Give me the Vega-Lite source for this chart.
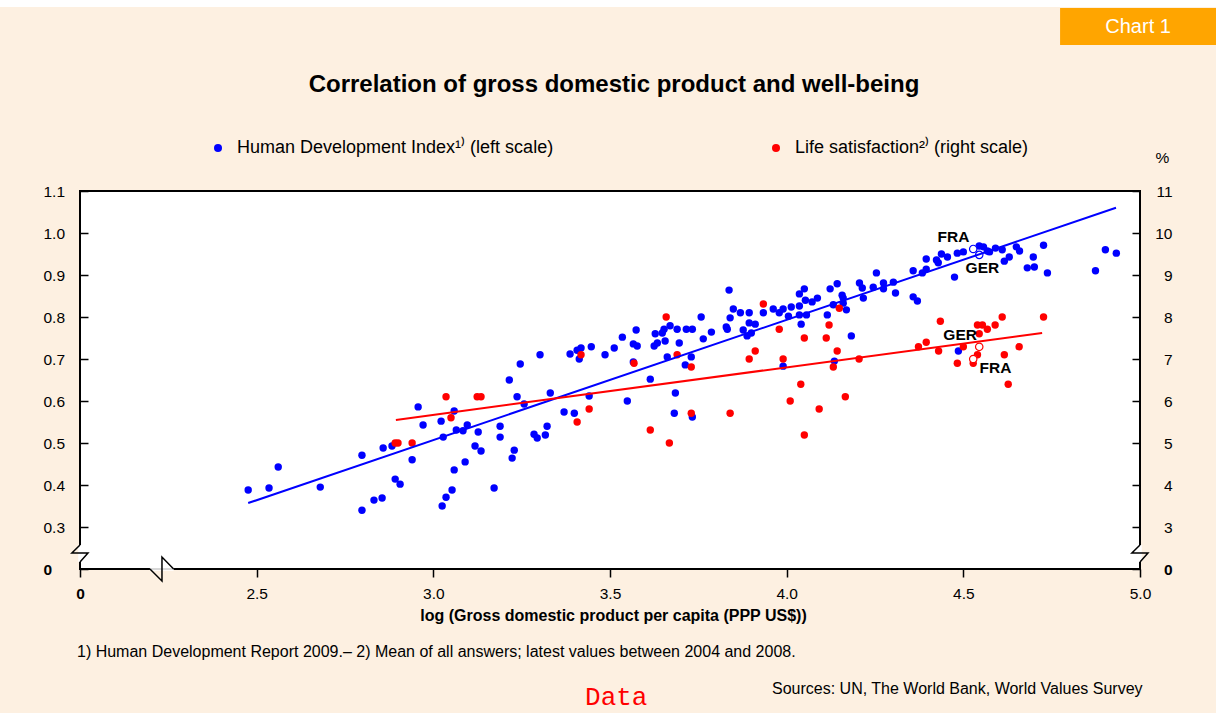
{
  "$schema": "https://vega.github.io/schema/vega-lite/v6.json",
  "width": 1060,
  "height": 378,
  "autosize": {"type": "none"},
  "padding": {"left": 80, "top": 191, "right": 76, "bottom": 144},
  "background": "#FDF0E1",
  "config": {
    "font": "Liberation Sans",
    "view": {"stroke": "#000000", "strokeWidth": 2, "fill": "#FFFFFF"},
    "axis": {"grid": false, "domain": false, "tickColor": "#000000", "tickWidth": 1.5, "labelColor": "#000000", "labelFont": "Liberation Sans", "labelFontSize": 15.5, "titleColor": "#000000", "titleFont": "Liberation Sans", "labelFlush": false, "labelOverlap": false}
  },
  "datasets": {
    "hdi": [
      {"x":2.476,"v":0.388},{"x":2.535,"v":0.393},{"x":2.561,"v":0.443},{"x":2.680,"v":0.395},{"x":2.798,"v":0.340},{"x":2.798,"v":0.471},{"x":2.832,"v":0.364},{"x":2.855,"v":0.369},{"x":2.858,"v":0.488},{"x":2.883,"v":0.493},{"x":2.892,"v":0.414},{"x":2.906,"v":0.402},{"x":2.940,"v":0.460},{"x":2.957,"v":0.586},{"x":2.971,"v":0.543},{"x":3.022,"v":0.552},{"x":3.025,"v":0.350},{"x":3.028,"v":0.514},{"x":3.036,"v":0.371},{"x":3.053,"v":0.388},{"x":3.059,"v":0.436},{"x":3.059,"v":0.576},{"x":3.065,"v":0.531},{"x":3.084,"v":0.529},{"x":3.090,"v":0.455},{"x":3.096,"v":0.543},{"x":3.118,"v":0.493},{"x":3.127,"v":0.526},{"x":3.135,"v":0.481},{"x":3.172,"v":0.393},{"x":3.189,"v":0.540},{"x":3.189,"v":0.514},{"x":3.215,"v":0.650},{"x":3.223,"v":0.464},{"x":3.229,"v":0.483},{"x":3.237,"v":0.610},{"x":3.246,"v":0.688},{"x":3.257,"v":0.593},{"x":3.285,"v":0.521},{"x":3.294,"v":0.512},{"x":3.302,"v":0.710},{"x":3.317,"v":0.519},{"x":3.322,"v":0.540},{"x":3.331,"v":0.619},{"x":3.370,"v":0.574},{"x":3.387,"v":0.712},{"x":3.399,"v":0.571},{"x":3.407,"v":0.721},{"x":3.413,"v":0.700},{"x":3.418,"v":0.726},{"x":3.441,"v":0.612},{"x":3.447,"v":0.729},{"x":3.486,"v":0.710},{"x":3.512,"v":0.726},{"x":3.535,"v":0.752},{"x":3.549,"v":0.600},{"x":3.566,"v":0.736},{"x":3.566,"v":0.693},{"x":3.574,"v":0.769},{"x":3.577,"v":0.731},{"x":3.614,"v":0.652},{"x":3.625,"v":0.731},{"x":3.628,"v":0.760},{"x":3.634,"v":0.738},{"x":3.648,"v":0.762},{"x":3.653,"v":0.771},{"x":3.656,"v":0.743},{"x":3.662,"v":0.705},{"x":3.670,"v":0.779},{"x":3.682,"v":0.571},{"x":3.685,"v":0.619},{"x":3.690,"v":0.771},{"x":3.696,"v":0.738},{"x":3.713,"v":0.686},{"x":3.716,"v":0.771},{"x":3.730,"v":0.705},{"x":3.733,"v":0.771},{"x":3.733,"v":0.562},{"x":3.758,"v":0.800},{"x":3.764,"v":0.748},{"x":3.787,"v":0.764},{"x":3.829,"v":0.776},{"x":3.832,"v":0.771},{"x":3.837,"v":0.864},{"x":3.840,"v":0.798},{"x":3.849,"v":0.819},{"x":3.869,"v":0.810},{"x":3.877,"v":0.769},{"x":3.888,"v":0.755},{"x":3.894,"v":0.810},{"x":3.894,"v":0.786},{"x":3.900,"v":0.762},{"x":3.911,"v":0.783},{"x":3.934,"v":0.810},{"x":3.962,"v":0.819},{"x":3.979,"v":0.810},{"x":3.990,"v":0.819},{"x":3.990,"v":0.683},{"x":4.005,"v":0.802},{"x":4.013,"v":0.824},{"x":4.036,"v":0.826},{"x":4.036,"v":0.805},{"x":4.036,"v":0.855},{"x":4.041,"v":0.783},{"x":4.050,"v":0.867},{"x":4.053,"v":0.840},{"x":4.056,"v":0.805},{"x":4.072,"v":0.836},{"x":4.087,"v":0.845},{"x":4.115,"v":0.805},{"x":4.123,"v":0.867},{"x":4.132,"v":0.829},{"x":4.135,"v":0.695},{"x":4.143,"v":0.879},{"x":4.157,"v":0.852},{"x":4.160,"v":0.845},{"x":4.160,"v":0.833},{"x":4.169,"v":0.817},{"x":4.183,"v":0.755},{"x":4.206,"v":0.881},{"x":4.214,"v":0.869},{"x":4.217,"v":0.845},{"x":4.245,"v":0.871},{"x":4.254,"v":0.905},{"x":4.274,"v":0.881},{"x":4.274,"v":0.867},{"x":4.302,"v":0.883},{"x":4.308,"v":0.857},{"x":4.358,"v":0.910},{"x":4.358,"v":0.848},{"x":4.370,"v":0.838},{"x":4.384,"v":0.905},{"x":4.395,"v":0.914},{"x":4.395,"v":0.938},{"x":4.424,"v":0.936},{"x":4.429,"v":0.929},{"x":4.438,"v":0.950},{"x":4.455,"v":0.943},{"x":4.475,"v":0.895},{"x":4.483,"v":0.952},{"x":4.486,"v":0.719},{"x":4.500,"v":0.955},{"x":4.545,"v":0.969},{"x":4.557,"v":0.967},{"x":4.568,"v":0.957},{"x":4.574,"v":0.955},{"x":4.591,"v":0.964},{"x":4.610,"v":0.960},{"x":4.616,"v":0.933},{"x":4.630,"v":0.943},{"x":4.650,"v":0.967},{"x":4.659,"v":0.957},{"x":4.681,"v":0.917},{"x":4.698,"v":0.943},{"x":4.701,"v":0.919},{"x":4.727,"v":0.971},{"x":4.738,"v":0.905},{"x":4.874,"v":0.910},{"x":4.902,"v":0.960},{"x":4.933,"v":0.952},
      {"x":4.528,"v":0.962,"country":"FRA"},{"x":4.545,"v":0.948,"country":"GER"}
    ],
    "ls": [
      {"x":2.892,"v":5.0},{"x":2.900,"v":5.0},{"x":2.940,"v":5.0},{"x":3.036,"v":6.1},{"x":3.050,"v":5.6},{"x":3.124,"v":6.1},{"x":3.135,"v":6.1},{"x":3.407,"v":5.5},{"x":3.418,"v":7.1},{"x":3.441,"v":5.81},{"x":3.568,"v":6.9},{"x":3.614,"v":5.31},{"x":3.659,"v":8.0},{"x":3.668,"v":5.0},{"x":3.690,"v":7.1},{"x":3.730,"v":6.81},{"x":3.730,"v":5.71},{"x":3.840,"v":5.71},{"x":3.894,"v":7.0},{"x":3.911,"v":7.19},{"x":3.934,"v":8.31},{"x":3.979,"v":7.71},{"x":3.990,"v":7.0},{"x":4.010,"v":6.0},{"x":4.040,"v":6.4},{"x":4.050,"v":7.5},{"x":4.050,"v":5.19},{"x":4.092,"v":5.81},{"x":4.112,"v":7.5},{"x":4.120,"v":7.81},{"x":4.132,"v":6.81},{"x":4.143,"v":7.19},{"x":4.149,"v":8.21},{"x":4.166,"v":6.1},{"x":4.205,"v":7.0},{"x":4.373,"v":7.29},{"x":4.395,"v":7.4},{"x":4.430,"v":7.19},{"x":4.435,"v":7.9},{"x":4.483,"v":6.9},{"x":4.500,"v":7.29},{"x":4.528,"v":6.9},{"x":4.540,"v":7.81},{"x":4.540,"v":7.1},{"x":4.545,"v":7.6},{"x":4.554,"v":7.81},{"x":4.568,"v":7.71},{"x":4.590,"v":7.81},{"x":4.610,"v":8.0},{"x":4.616,"v":7.1},{"x":4.627,"v":6.4},{"x":4.658,"v":7.29},{"x":4.727,"v":8.0},
      {"x":4.528,"v":7.0,"country":"FRA"},{"x":4.545,"v":7.29,"country":"GER"}
    ],
    "fit": [
      {"s":"hdi","x":2.476,"v":0.357},{"s":"hdi","x":4.932,"v":1.06},
      {"s":"ls","x":2.894,"v":5.55},{"s":"ls","x":4.723,"v":7.62}
    ],
    "labelsA": [
      {"label":"FRA","x":4.472,"v":0.990},{"label":"GER","x":4.554,"v":0.917}
    ],
    "labelsB": [
      {"label":"GER","x":4.491,"v":7.57},{"label":"FRA","x":4.591,"v":6.79}
    ],
    "breaks": [
      {"k":"xcover","i":0,"x":2.198,"v":0.2},{"k":"xcover","i":1,"x":2.265,"v":0.2},
      {"k":"lcover","i":0,"x":2.0,"v":0.2571},{"k":"lcover","i":1,"x":2.0,"v":0.2167},
      {"k":"rcover","i":0,"x":5.0,"v":0.2571},{"k":"rcover","i":1,"x":5.0,"v":0.2167},
      {"k":"xgap","i":0,"x":2.198,"v":0.2},{"k":"xgap","i":1,"x":2.265,"v":0.2},
      {"k":"xzig","i":0,"x":2.198,"v":0.2},{"k":"xzig","i":1,"x":2.232,"v":0.1714},{"k":"xzig","i":2,"x":2.232,"v":0.2286},{"k":"xzig","i":3,"x":2.265,"v":0.2},
      {"k":"lzig","i":0,"x":2.0,"v":0.2571},{"k":"lzig","i":1,"x":1.977,"v":0.2381},{"k":"lzig","i":2,"x":2.0226,"v":0.2381},{"k":"lzig","i":3,"x":2.0,"v":0.2167},
      {"k":"rzig","i":0,"x":5.0,"v":0.2571},{"k":"rzig","i":1,"x":4.977,"v":0.2381},{"k":"rzig","i":2,"x":5.0226,"v":0.2381},{"k":"rzig","i":3,"x":5.0,"v":0.2167}
    ],
    "notes": [
      {"id":"title","t":"Correlation of gross domestic product and well-being"},
      {"id":"foot","t":"1) Human Development Report 2009.– 2) Mean of all answers; latest values between 2004 and 2008."},
      {"id":"src","t":"Sources: UN, The World Bank, World Values Survey"},
      {"id":"data","t":"Data"},
      {"id":"chart","t":"Chart 1"},
      {"id":"strip","t":""}
    ]
  },
  "layer": [
    {
      "data": {"name": "hdi"},
      "transform": [{"filter": "!isValid(datum.country)"}],
      "mark": {"type": "point", "filled": true, "size": 55, "opacity": 1},
      "encoding": {
        "x": {"field": "x", "type": "quantitative", "scale": {"domain": [2, 5], "nice": false, "zero": false},
          "axis": {"orient": "bottom", "values": [2, 2.5, 3, 3.5, 4, 4.5, 5], "labelExpr": "datum.value == 2 ? '0' : format(datum.value, '.1f')",
            "labelFontWeight": {"condition": {"test": "datum.value == 2", "value": "bold"}, "value": "normal"},
            "tickSize": 8, "labelPadding": 9, "labelBaseline": "top",
            "title": "log (Gross domestic product per capita (PPP US$))", "titleFontSize": 16, "titleFontWeight": "bold",
            "titleX": 533, "titleY": 46, "titleAlign": "center", "titleBaseline": "middle"}},
        "y": {"field": "v", "type": "quantitative", "scale": {"domain": [0.2, 1.1], "nice": false, "zero": false},
          "axis": {"orient": "left", "values": [0.2, 0.3, 0.4, 0.5, 0.6, 0.7, 0.8, 0.9, 1.0, 1.1],
            "labelExpr": "datum.value < 0.25 ? '0' : format(datum.value, '.1f')",
            "labelFontWeight": {"condition": {"test": "datum.value < 0.25", "value": "bold"}, "value": "normal"},
            "tickSize": -8, "labelPadding": 45, "labelAlign": "left", "labelBaseline": "middle", "title": null}},
        "color": {"datum": "Human Development Index¹⁾ (left scale)", "type": "nominal",
          "scale": {"domain": ["Human Development Index¹⁾ (left scale)", "Life satisfaction²⁾ (right scale)"], "range": ["#0000FF", "#FF0000"]},
          "legend": {"orient": "none", "legendX": 129, "legendY": -52, "direction": "horizontal", "title": null,
            "labelFontSize": 18, "labelFont": "Liberation Sans", "labelColor": "#000000", "labelLimit": 600, "symbolType": "circle",
            "symbolSize": 64, "symbolStrokeWidth": 0, "symbolOpacity": 1, "labelOffset": 10, "columnPadding": 213, "padding": 0}}
      }
    },
    {
      "data": {"name": "ls"},
      "transform": [{"filter": "!isValid(datum.country)"}],
      "mark": {"type": "point", "filled": true, "size": 55, "opacity": 1},
      "encoding": {
        "x": {"field": "x", "type": "quantitative"},
        "y": {"field": "v", "type": "quantitative", "scale": {"domain": [2, 11], "nice": false, "zero": false},
          "axis": {"orient": "right", "values": [2, 3, 4, 5, 6, 7, 8, 9, 10, 11],
            "labelExpr": "datum.value == 2 ? '0' : format(datum.value, 'd')",
            "labelFontWeight": {"condition": {"test": "datum.value == 2", "value": "bold"}, "value": "normal"},
            "tickSize": -8, "labelPadding": 40, "labelAlign": "right", "labelBaseline": "middle",
            "title": "%", "titleAngle": 0, "titleX": 22, "titleY": -34, "titleAlign": "center", "titleBaseline": "middle",
            "titleFontSize": 15.5, "titleFontWeight": "normal"}},
        "color": {"datum": "Life satisfaction²⁾ (right scale)", "type": "nominal"}
      }
    },
    {
      "data": {"name": "hdi"},
      "transform": [{"filter": "isValid(datum.country)"}],
      "mark": {"type": "point", "filled": true, "fill": "#FFFFFF", "stroke": "#0000FF", "strokeWidth": 1.2, "size": 55, "opacity": 1},
      "encoding": {
        "x": {"field": "x", "type": "quantitative"},
        "y": {"field": "v", "type": "quantitative", "scale": {"domain": [0.2, 1.1], "nice": false, "zero": false}, "axis": null}
      }
    },
    {
      "data": {"name": "ls"},
      "transform": [{"filter": "isValid(datum.country)"}],
      "mark": {"type": "point", "filled": true, "fill": "#FFFFFF", "stroke": "#FF0000", "strokeWidth": 1.2, "size": 55, "opacity": 1},
      "encoding": {
        "x": {"field": "x", "type": "quantitative"},
        "y": {"field": "v", "type": "quantitative", "scale": {"domain": [2, 11], "nice": false, "zero": false}, "axis": null}
      }
    },
    {
      "data": {"name": "fit"},
      "transform": [{"filter": "datum.s == 'hdi'"}],
      "mark": {"type": "line", "color": "#0000FF", "strokeWidth": 2},
      "encoding": {
        "x": {"field": "x", "type": "quantitative"},
        "y": {"field": "v", "type": "quantitative", "scale": {"domain": [0.2, 1.1], "nice": false, "zero": false}, "axis": null}
      }
    },
    {
      "data": {"name": "fit"},
      "transform": [{"filter": "datum.s == 'ls'"}],
      "mark": {"type": "line", "color": "#FF0000", "strokeWidth": 2},
      "encoding": {
        "x": {"field": "x", "type": "quantitative"},
        "y": {"field": "v", "type": "quantitative", "scale": {"domain": [2, 11], "nice": false, "zero": false}, "axis": null}
      }
    },
    {
      "data": {"name": "labelsA"},
      "mark": {"type": "text", "font": "Liberation Sans", "fontSize": 15.5, "fontWeight": "bold", "color": "#000000", "align": "center", "baseline": "middle"},
      "encoding": {
        "x": {"field": "x", "type": "quantitative"},
        "y": {"field": "v", "type": "quantitative", "scale": {"domain": [0.2, 1.1], "nice": false, "zero": false}, "axis": null},
        "text": {"field": "label"}
      }
    },
    {
      "data": {"name": "labelsB"},
      "mark": {"type": "text", "font": "Liberation Sans", "fontSize": 15.5, "fontWeight": "bold", "color": "#000000", "align": "center", "baseline": "middle"},
      "encoding": {
        "x": {"field": "x", "type": "quantitative"},
        "y": {"field": "v", "type": "quantitative", "scale": {"domain": [2, 11], "nice": false, "zero": false}, "axis": null},
        "text": {"field": "label"}
      }
    },
    {
      "data": {"name": "breaks"},
      "transform": [{"filter": "datum.k == 'xcover' || datum.k == 'lcover' || datum.k == 'rcover'"}],
      "mark": {"type": "line", "color": "#FFFFFF", "strokeWidth": 3.5},
      "encoding": {
        "x": {"field": "x", "type": "quantitative"},
        "y": {"field": "v", "type": "quantitative", "scale": {"domain": [0.2, 1.1], "nice": false, "zero": false}, "axis": null},
        "detail": {"field": "k"},
        "order": {"field": "i"}
      }
    },
    {
      "data": {"name": "breaks"},
      "transform": [{"filter": "datum.k == 'xgap'"}],
      "mark": {"type": "line", "color": "#B0B0B0", "strokeWidth": 1},
      "encoding": {
        "x": {"field": "x", "type": "quantitative"},
        "y": {"field": "v", "type": "quantitative", "scale": {"domain": [0.2, 1.1], "nice": false, "zero": false}, "axis": null},
        "order": {"field": "i"}
      }
    },
    {
      "data": {"name": "breaks"},
      "transform": [{"filter": "datum.k == 'xzig' || datum.k == 'lzig' || datum.k == 'rzig'"}],
      "mark": {"type": "line", "color": "#000000", "strokeWidth": 1.5},
      "encoding": {
        "x": {"field": "x", "type": "quantitative"},
        "y": {"field": "v", "type": "quantitative", "scale": {"domain": [0.2, 1.1], "nice": false, "zero": false}, "axis": null},
        "detail": {"field": "k"},
        "order": {"field": "i"}
      }
    },
    {
      "data": {"name": "notes"},
      "transform": [{"filter": "datum.id == 'strip'"}],
      "mark": {"type": "rect", "color": "#FFFFFF"},
      "encoding": {
        "x": {"datum": 1.77, "type": "quantitative"},
        "x2": {"datum": 5.22},
        "y": {"datum": 1.56, "type": "quantitative", "scale": {"domain": [0.2, 1.1], "nice": false, "zero": false}, "axis": null},
        "y2": {"datum": 1.5381}
      }
    },
    {
      "data": {"name": "notes"},
      "transform": [{"filter": "datum.id == 'chart'"}],
      "mark": {"type": "rect", "color": "#FFA500"},
      "encoding": {
        "x": {"datum": 4.7738, "type": "quantitative"},
        "x2": {"datum": 5.2154},
        "y": {"datum": 1.5357, "type": "quantitative", "scale": {"domain": [0.2, 1.1], "nice": false, "zero": false}, "axis": null},
        "y2": {"datum": 1.4476}
      }
    },
    {
      "data": {"name": "notes"},
      "transform": [{"filter": "datum.id == 'chart'"}],
      "mark": {"type": "text", "font": "Liberation Sans", "fontSize": 20, "color": "#FFFFFF", "align": "center", "baseline": "middle"},
      "encoding": {
        "x": {"datum": 4.9946, "type": "quantitative"},
        "y": {"datum": 1.4905, "type": "quantitative", "scale": {"domain": [0.2, 1.1], "nice": false, "zero": false}, "axis": null},
        "text": {"field": "t"}
      }
    },
    {
      "data": {"name": "notes"},
      "transform": [{"filter": "datum.id == 'title'"}],
      "mark": {"type": "text", "font": "Liberation Sans", "fontSize": 24, "fontWeight": "bold", "color": "#000000", "align": "center", "baseline": "middle"},
      "encoding": {
        "x": {"datum": 3.5113, "type": "quantitative"},
        "y": {"datum": 1.3524, "type": "quantitative", "scale": {"domain": [0.2, 1.1], "nice": false, "zero": false}, "axis": null},
        "text": {"field": "t"}
      }
    },
    {
      "data": {"name": "notes"},
      "transform": [{"filter": "datum.id == 'foot'"}],
      "mark": {"type": "text", "font": "Liberation Sans", "fontSize": 16, "color": "#000000", "align": "left", "baseline": "middle"},
      "encoding": {
        "x": {"datum": 1.9915, "type": "quantitative"},
        "y": {"datum": 0.0024, "type": "quantitative", "scale": {"domain": [0.2, 1.1], "nice": false, "zero": false}, "axis": null},
        "text": {"field": "t"}
      }
    },
    {
      "data": {"name": "notes"},
      "transform": [{"filter": "datum.id == 'src'"}],
      "mark": {"type": "text", "font": "Liberation Sans", "fontSize": 16, "color": "#000000", "align": "left", "baseline": "middle"},
      "encoding": {
        "x": {"datum": 3.9586, "type": "quantitative"},
        "y": {"datum": -0.0857, "type": "quantitative", "scale": {"domain": [0.2, 1.1], "nice": false, "zero": false}, "axis": null},
        "text": {"field": "t"}
      }
    },
    {
      "data": {"name": "notes"},
      "transform": [{"filter": "datum.id == 'data'"}],
      "mark": {"type": "text", "font": "Liberation Mono", "fontSize": 26, "color": "#FF0000", "align": "left", "baseline": "middle"},
      "encoding": {
        "x": {"datum": 3.4294, "type": "quantitative"},
        "y": {"datum": -0.1048, "type": "quantitative", "scale": {"domain": [0.2, 1.1], "nice": false, "zero": false}, "axis": null},
        "text": {"field": "t"}
      }
    }
  ],
  "resolve": {"scale": {"y": "independent"}}
}
